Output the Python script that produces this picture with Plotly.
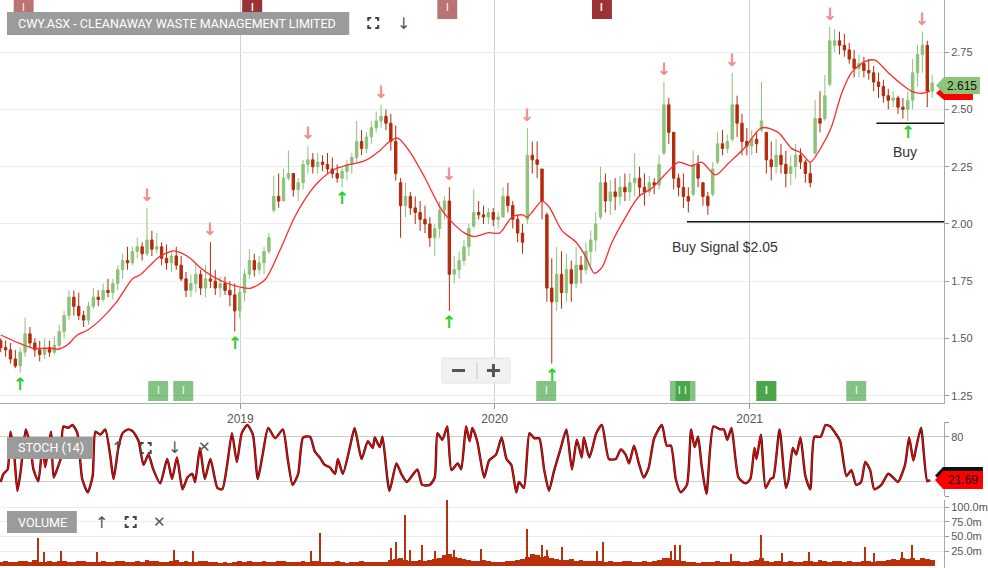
import numpy as np
import pandas as pd
import plotly.graph_objects as go

START = pd.Timestamp("2018-01-22")

# ---------------- weekly OHLC ----------------
opens = [1.49,1.46,1.45,1.41,1.38,1.44,1.52,1.48,1.45,1.43,
         1.46,1.44,1.47,1.53,1.60,1.68,1.64,1.60,1.58,1.64,
         1.68,1.67,1.71,1.70,1.74,1.80,1.84,1.83,1.88,1.90,
         1.87,1.93,1.89,1.90,1.85,1.83,1.86,1.82,1.76,1.71,
         1.74,1.78,1.72,1.76,1.75,1.72,1.74,1.71,1.69,1.62,
         1.70,1.78,1.84,1.80,1.83,1.88,2.06,2.12,2.10,2.20,
         2.22,2.15,2.18,2.26,2.28,2.25,2.27,2.26,2.24,2.22,
         2.20,2.23,2.26,2.29,2.36,2.33,2.38,2.42,2.45,2.47,
         2.44,2.36,2.18,2.08,2.12,2.07,2.05,2.02,2.00,1.94,
         1.98,2.06,2.10,1.78,1.80,1.84,1.90,1.99,2.05,2.04,
         2.03,2.05,2.02,2.03,2.12,2.08,2.02,1.96,2.02,2.30,
         2.28,2.24,2.04,1.72,1.66,1.78,1.70,1.80,1.74,1.82,
         1.80,1.88,1.93,2.03,2.18,2.10,2.14,2.12,2.16,2.14,
         2.18,2.20,2.16,2.14,2.18,2.17,2.31,2.52,2.40,2.20,
         2.16,2.12,2.13,2.26,2.18,2.12,2.13,2.27,2.35,2.33,
         2.37,2.52,2.44,2.36,2.34,2.37,2.41,2.40,2.28,2.25,
         2.30,2.26,2.22,2.25,2.30,2.27,2.22,2.31,2.46,2.46,
         2.61,2.78,2.80,2.78,2.76,2.72,2.68,2.70,2.67,2.66,
         2.62,2.60,2.56,2.54,2.55,2.51,2.50,2.54,2.66,2.74,
         2.78,2.58]
highs = [1.50,1.49,1.48,1.45,1.46,1.59,1.55,1.50,1.49,1.50,
         1.49,1.51,1.56,1.62,1.71,1.71,1.70,1.62,1.66,1.72,
         1.71,1.74,1.76,1.76,1.82,1.87,1.90,1.90,1.94,1.92,
         2.07,1.97,1.96,1.92,1.91,1.88,1.90,1.86,1.79,1.78,
         1.83,1.80,1.82,1.92,1.80,1.77,1.77,1.75,1.74,1.72,
         1.80,1.89,1.87,1.86,1.90,1.96,2.21,2.22,2.24,2.32,
         2.22,2.20,2.28,2.34,2.31,2.31,2.30,2.31,2.29,2.26,
         2.25,2.28,2.31,2.45,2.41,2.40,2.45,2.49,2.52,2.50,
         2.48,2.43,2.20,2.18,2.14,2.12,2.10,2.08,2.03,2.00,
         2.10,2.12,2.16,1.86,1.88,1.93,2.00,2.15,2.10,2.08,
         2.07,2.07,2.05,2.16,2.18,2.10,2.04,2.00,2.42,2.36,
         2.36,2.24,2.05,1.85,1.90,1.88,1.87,1.84,1.90,1.86,
         1.92,1.97,2.05,2.25,2.22,2.19,2.20,2.21,2.22,2.22,
         2.31,2.25,2.22,2.21,2.20,2.30,2.62,2.55,2.40,2.22,
         2.22,2.16,2.32,2.30,2.18,2.14,2.27,2.40,2.41,2.39,
         2.66,2.56,2.48,2.42,2.41,2.40,2.62,2.40,2.36,2.37,
         2.35,2.32,2.30,2.35,2.33,2.28,2.27,2.54,2.58,2.65,
         2.86,2.85,2.84,2.83,2.79,2.76,2.74,2.73,2.72,2.69,
         2.66,2.63,2.59,2.58,2.56,2.55,2.58,2.72,2.78,2.84,
         2.80,2.65]
lows = [1.44,1.42,1.39,1.37,1.35,1.42,1.46,1.42,1.40,1.41,
        1.42,1.43,1.45,1.50,1.58,1.60,1.58,1.55,1.56,1.63,
        1.64,1.66,1.68,1.67,1.71,1.76,1.80,1.82,1.85,1.84,
        1.86,1.86,1.87,1.82,1.80,1.79,1.80,1.75,1.68,1.68,
        1.70,1.69,1.68,1.72,1.69,1.68,1.69,1.64,1.53,1.59,
        1.66,1.76,1.77,1.78,1.78,1.87,2.05,2.07,2.10,2.19,
        2.12,2.10,2.15,2.22,2.22,2.22,2.23,2.22,2.20,2.18,
        2.16,2.19,2.22,2.27,2.30,2.31,2.35,2.40,2.42,2.41,
        2.32,2.19,1.94,2.03,2.04,2.00,1.97,1.96,1.90,1.86,
        1.94,2.02,1.62,1.74,1.76,1.82,1.86,1.98,2.02,2.00,
        2.00,1.99,1.98,2.03,2.05,1.98,1.92,1.87,2.00,2.22,
        2.20,2.02,1.66,1.39,1.62,1.63,1.66,1.66,1.72,1.74,
        1.78,1.82,1.88,2.02,2.05,2.04,2.06,2.08,2.10,2.10,
        2.12,2.12,2.08,2.12,2.13,2.15,2.30,2.35,2.15,2.12,
        2.07,2.05,2.12,2.16,2.08,2.04,2.12,2.26,2.30,2.31,
        2.36,2.38,2.30,2.30,2.30,2.31,2.40,2.22,2.19,2.22,
        2.22,2.16,2.17,2.20,2.24,2.18,2.16,2.30,2.40,2.45,
        2.60,2.75,2.74,2.73,2.70,2.64,2.64,2.64,2.63,2.58,
        2.55,2.53,2.50,2.51,2.48,2.46,2.45,2.50,2.60,2.66,
        2.51,2.55]
closes = [1.46,1.45,1.41,1.38,1.44,1.52,1.48,1.45,1.43,1.46,
          1.44,1.47,1.53,1.60,1.68,1.64,1.60,1.58,1.64,1.68,
          1.67,1.71,1.70,1.74,1.80,1.84,1.83,1.88,1.90,1.87,
          1.93,1.89,1.90,1.85,1.83,1.86,1.82,1.76,1.71,1.74,
          1.78,1.72,1.76,1.75,1.72,1.74,1.71,1.69,1.62,1.70,
          1.78,1.84,1.80,1.83,1.88,1.94,2.12,2.10,2.20,2.22,
          2.15,2.18,2.26,2.28,2.25,2.27,2.26,2.24,2.22,2.20,
          2.23,2.26,2.29,2.36,2.33,2.38,2.42,2.45,2.47,2.44,
          2.36,2.22,2.08,2.12,2.07,2.05,2.02,2.00,1.94,1.98,
          2.06,2.10,1.78,1.80,1.84,1.90,1.98,2.05,2.04,2.03,
          2.05,2.02,2.03,2.12,2.08,2.02,1.96,1.92,2.30,2.28,
          2.26,2.10,1.72,1.66,1.78,1.70,1.80,1.74,1.82,1.80,
          1.88,1.93,2.00,2.18,2.10,2.14,2.12,2.16,2.14,2.18,
          2.20,2.16,2.14,2.18,2.17,2.26,2.52,2.40,2.20,2.16,
          2.12,2.10,2.26,2.20,2.12,2.08,2.24,2.35,2.33,2.36,
          2.52,2.44,2.36,2.34,2.37,2.35,2.45,2.28,2.25,2.30,
          2.26,2.22,2.25,2.30,2.27,2.22,2.18,2.46,2.44,2.56,
          2.80,2.80,2.78,2.76,2.72,2.68,2.70,2.67,2.66,2.62,
          2.60,2.56,2.54,2.55,2.51,2.50,2.54,2.66,2.74,2.78,
          2.58,2.615]
week_dates = pd.date_range(START, periods=len(closes), freq="7D")

# ---------------- moving average (day offset from START, value) ----------------
ma_day = [0,29,47,72,83,96,110,125,143,165,
          190,200,215,229,248,258,272,286,305,325,
          344,358,379,401,422,444,458,480,501,522,
          544,558,570,587,608,630,644,666,680,701,
          716,734,749,756,777,787,806,826,840,852,
          863,877,897,916,935,955,973,992,1006,1026,
          1045,1069,1092,1116,1135,1149,1162,1178,1192,1207,
          1221,1241,1255,1274,1293,1307,1321,1334]
ma_val = [1.515,1.476,1.457,1.457,1.453,1.472,1.515,1.537,1.581,1.654,
          1.763,1.777,1.821,1.86,1.882,1.875,1.85,1.81,1.77,1.741,
          1.724,1.719,1.755,1.886,2.03,2.14,2.19,2.24,2.26,2.275,
          2.32,2.36,2.375,2.316,2.207,2.076,2.02,1.96,1.945,1.962,
          1.96,2.03,2.04,2.03,2.10,2.075,1.97,1.92,1.856,1.785,
          1.81,1.917,2.03,2.12,2.157,2.22,2.27,2.253,2.27,2.214,
          2.266,2.336,2.42,2.40,2.33,2.31,2.27,2.336,2.42,2.57,
          2.66,2.71,2.715,2.66,2.61,2.58,2.57,2.58]

# ---------------- stochastic (day offset, value) ----------------
stoch_day = [0,4,10,14,19,24,29,36,43,47,
             54,60,64,72,76,82,86,90,97,103,
             110,117,125,132,136,143,150,157,162,169,
             175,183,190,198,205,212,219,229,239,246,
             253,261,268,275,279,286,293,301,311,318,
             325,332,339,346,354,362,369,376,384,394,
             405,412,419,427,434,444,451,458,465,472,
             480,484,491,501,508,518,527,534,537,544,
             548,558,568,575,583,598,605,616,623,627,
             634,641,647,656,661,668,673,677,684,694,
             701,711,719,726,733,740,744,751,759,766,
             773,780,787,794,804,812,820,827,834,837,
             845,855,863,873,883,890,897,902,909,916,
             923,930,938,949,956,962,969,976,985,991,
             996,1001,1006,1013,1023,1033,1038,1043,1049,1059,
             1069,1076,1082,1085,1091,1098,1105,1109,1118,1127,
             1131,1137,1142,1148,1155,1162,1168,1177,1184,1191,
             1198,1205,1214,1221,1228,1235,1241,1248,1254,1264,
             1274,1281,1288,1298,1304,1310,1314,1321,1330,1334]
stoch_val = [19,30,36,87,60,7,36,90,65,36,
             20,68,39,87,25,39,50,94,92,96,
             85,23,5,27,87,83,90,56,23,66,
             85,90,87,74,42,56,36,17,50,23,
             52,9,25,30,19,65,23,50,11,9,
             42,85,46,85,96,83,23,56,92,78,
             90,50,15,30,79,80,60,52,42,39,
             30,50,30,65,92,50,74,65,79,66,
             80,7,44,30,19,36,15,15,25,85,
             76,94,35,44,36,94,74,92,74,25,
             48,56,79,50,42,5,19,11,85,78,
             78,36,7,33,65,90,36,76,52,79,
             52,85,96,50,50,63,56,44,68,44,
             25,38,78,96,68,68,23,5,15,90,
             66,80,42,3,94,90,90,76,92,25,
             17,23,65,50,83,11,23,25,90,11,
             23,65,56,79,27,9,80,80,96,94,
             85,74,27,35,15,19,46,35,9,15,
             30,25,19,42,79,48,65,92,20,21.69]

# ---------------- volume (millions) ----------------
vol_week = [7,8,6,7,9,8,7,10,7,6,8,7,9,
            8,7,6,8,9,7,6,7,8,6,7,9,8,7,6,8,7,10,
            8,9,7,6,8,10,7,8,6,7,9,8,7,6,5,6,
            5,6,8,7,9,6,7,8,7,6,9,8,7,6,7,8,
            7,8,9,7,6,7,8,6,5,6,7,8,7,6,7,6,7,
            10,12,14,11,9,8,10,9,11,12,13,18,20,16,14,12,
            11,9,8,10,8,7,6,7,8,
            9,10,12,16,20,18,15,17,14,12,11,10,12,9,10,8,9,8,9,
            7,8,6,7,8,9,7,6,8,7,9,10,14,13,11,10,9,
            7,6,5,6,7,6,8,7,6,8,9,7,6,9,11,13,8,7,9,8,
            7,8,6,7,9,8,7,10,8,7,8,9,7,8,6,7,8,9,7,8,
            9,10,12,11,13,12,14,11,13,12,10]
spike_day = [54,62,86,139,249,276,445,459,561,568,
             580,587,605,623,641,651,690,756,777,784,
             806,856,865,962,968,975,1049,1091,1122,1161,
             1241,1254,1294,1308]
spike_vol = [48,23,26,24,28,26,25,56,30,40,
             86,28,36,25,125,28,29,63,36,28,
             32,26,41,26,36,36,20,52,22,24,
             32,22,24,35]

# ---------------- signals / events ----------------
sell_weeks = [30, 43, 63, 78, 92, 108, 136, 150, 170, 189]
buy_weeks = [4, 48, 70, 92, 113, 186]
top_event_day = [33, 361, 361, 641, 863, 863]
bottom_event_day = [226, 262, 783, 975, 983, 1099, 1099, 1228]

year_ticks = ["2019-01-01", "2020-01-01", "2021-01-01"]
year_labels = ["2019", "2020", "2021"]
price_ticks = [1.25, 1.50, 1.75, 2.00, 2.25, 2.50, 2.75]
stoch_ticks = [0, 20, 80, 100]
stoch_labels = ["", "", "80", ""]   # the 20 label sits under the value tag
vol_ticks = [25, 50, 75, 100]
vol_labels = ["25.0m", "50.0m", "75.0m", "100.0m"]

buy_signal_level = 2.01
buy_signal_start_day = 985
buy_level = 2.44
buy_start_day = 1257
last_price = 2.615
last_stoch = 21.69
title_text = "CWY.ASX - CLEANAWAY WASTE MANAGEMENT LIMITED"

# ---------------- figure ----------------
W, H = 988, 568
R_MARGIN = 42
PW = W - R_MARGIN


def X(px):
    return px / PW


def Y(py):
    return 1 - py / H


def day(d):
    return START + pd.Timedelta(days=d)


GREEN = "#8cc27a"
RED = "#b32b0c"
VOLC = "#b8300c"
AXIS_END = day(1354)
LABEL_FONT = "Roboto"

fig = go.Figure()

fig.add_trace(go.Candlestick(
    x=week_dates, open=opens, high=highs, low=lows, close=closes,
    increasing=dict(line=dict(color=GREEN, width=1), fillcolor=GREEN),
    decreasing=dict(line=dict(color=RED, width=1), fillcolor=RED),
    whiskerwidth=0, hoverinfo="skip", showlegend=False,
    xaxis="x", yaxis="y"))

fig.add_trace(go.Scatter(
    x=[day(d) for d in ma_day], y=ma_val, mode="lines",
    line=dict(color="#ff2a2a", width=1.3, shape="spline", smoothing=0.8),
    hoverinfo="skip", showlegend=False, xaxis="x", yaxis="y"))

sx = [day(d) for d in stoch_day]
fig.add_trace(go.Scatter(
    x=sx, y=stoch_val, mode="lines",
    line=dict(color="#1a1a1a", width=2.4, shape="spline", smoothing=0.6),
    hoverinfo="skip", showlegend=False, xaxis="x2", yaxis="y2"))
fig.add_trace(go.Scatter(
    x=sx, y=stoch_val, mode="lines",
    line=dict(color="#ff0000", width=1.3, shape="spline", smoothing=0.6),
    hoverinfo="skip", showlegend=False, xaxis="x2", yaxis="y2"))

fig.add_trace(go.Bar(
    x=week_dates, y=vol_week, width=7 * 86400000,
    marker=dict(color=VOLC, line=dict(width=0)),
    hoverinfo="skip", showlegend=False, xaxis="x3", yaxis="y3"))
fig.add_trace(go.Bar(
    x=[day(d) for d in spike_day], y=spike_vol, width=1.6 * 86400000,
    marker=dict(color=VOLC, line=dict(width=0)),
    hoverinfo="skip", showlegend=False, xaxis="x3", yaxis="y3"))

shapes = []
ann = []

# signal arrows
for i in sell_weeks:
    ann.append(dict(x=week_dates[i], y=highs[i], xref="x", yref="y", yshift=13,
                    xanchor="center", yanchor="middle",
                    text="<b>↓</b>", showarrow=False,
                    font=dict(family="DejaVu Sans", size=17, color="#f28b8b")))
for i in buy_weeks:
    ann.append(dict(x=week_dates[i], y=lows[i], xref="x", yref="y", yshift=-11,
                    xanchor="center", yanchor="middle",
                    text="<b>↑</b>", showarrow=False,
                    font=dict(family="DejaVu Sans", size=17, color="#2fcc2f")))

# event boxes
for d in top_event_day:
    shapes.append(dict(type="rect", xref="x", yref="paper",
                       x0=day(d - 14.3), x1=day(d + 14.3), y0=Y(19), y1=Y(0),
                       fillcolor="rgba(130,0,0,0.55)", line=dict(width=0), layer="above"))
    ann.append(dict(x=day(d), y=Y(8), xref="x", yref="paper", text="I", showarrow=False,
                    xanchor="center", yanchor="middle",
                    font=dict(family="Liberation Sans", size=10, color="white")))
for d in bottom_event_day:
    shapes.append(dict(type="rect", xref="x", yref="paper",
                       x0=day(d - 14.3), x1=day(d + 14.3), y0=Y(401), y1=Y(381),
                       fillcolor="rgba(20,140,20,0.52)", line=dict(width=0), layer="above"))
    ann.append(dict(x=day(d), y=Y(390), xref="x", yref="paper", text="I", showarrow=False,
                    xanchor="center", yanchor="middle",
                    font=dict(family="Liberation Sans", size=10, color="white")))

# buy lines and text
shapes.append(dict(type="line", xref="x", yref="y", x0=day(buy_signal_start_day), x1=AXIS_END,
                   y0=buy_signal_level, y1=buy_signal_level, line=dict(color="#111", width=1.5)))
shapes.append(dict(type="line", xref="x", yref="y", x0=day(buy_start_day), x1=AXIS_END,
                   y0=buy_level, y1=buy_level, line=dict(color="#111", width=1.5)))
ann.append(dict(x=day(1039), y=1.90, xref="x", yref="y", text="Buy Signal $2.05",
                xanchor="center", yanchor="middle",
                showarrow=False, font=dict(family="Liberation Sans", size=14, color="#333")))
ann.append(dict(x=day(1298), y=2.314, xref="x", yref="y", text="Buy",
                xanchor="center", yanchor="middle",
                showarrow=False, font=dict(family="Liberation Sans", size=14, color="#333")))


def badge(x0, x1, y0, y1, text, size=12.5):
    shapes.append(dict(type="rect", xref="paper", yref="paper", x0=X(x0), x1=X(x1),
                       y0=Y(y1), y1=Y(y0), fillcolor="#9b9b9b", line=dict(width=0), layer="above"))
    ann.append(dict(x=X(x0 + 9), y=Y((y0 + y1) / 2), xref="paper", yref="paper",
                    xanchor="left", yanchor="middle", text=text, showarrow=False,
                    font=dict(family=LABEL_FONT, size=size, color="white")))


def full_icon(cx, cy, s=5, a=3, color="#444"):
    for sxn, syn in [(-1, -1), (1, -1), (-1, 1), (1, 1)]:
        p = "M {} {} L {} {} L {} {}".format(
            X(cx + sxn * s), Y(cy + syn * (s - a)),
            X(cx + sxn * s), Y(cy + syn * s),
            X(cx + sxn * (s - a)), Y(cy + syn * s))
        shapes.append(dict(type="path", xref="paper", yref="paper", path=p,
                           line=dict(color=color, width=2), layer="above"))


def icon_text(cx, cy, t, size=16, color="#555"):
    ann.append(dict(x=X(cx), y=Y(cy), xref="paper", yref="paper", text=t, showarrow=False,
                    xanchor="center", yanchor="middle",
                    font=dict(family="DejaVu Sans", size=size, color=color)))


badge(7, 350, 12, 35, title_text)
full_icon(374, 23)
icon_text(404, 23, "↓")

badge(7, 93, 437, 459, "STOCH (14)")
icon_text(118, 447, "↑")
full_icon(146, 448)
icon_text(175, 447, "↓")
icon_text(205, 447, "✕", size=15)

badge(7, 77, 511, 533, "VOLUME")
icon_text(102, 522, "↑")
full_icon(131, 522)
icon_text(160, 522, "✕", size=15)

# zoom buttons
shapes.append(dict(type="rect", xref="paper", yref="paper", x0=X(443), x1=X(511),
                   y0=Y(383), y1=Y(358), fillcolor="#f1f1f1",
                   line=dict(color="#e4e4e4", width=1), layer="above"))
shapes.append(dict(type="line", xref="paper", yref="paper", x0=X(453), x1=X(466),
                   y0=Y(370.5), y1=Y(370.5), line=dict(color="#555", width=3), layer="above"))
shapes.append(dict(type="line", xref="paper", yref="paper", x0=X(488), x1=X(501),
                   y0=Y(370.5), y1=Y(370.5), line=dict(color="#555", width=3), layer="above"))
shapes.append(dict(type="line", xref="paper", yref="paper", x0=X(494.5), x1=X(494.5),
                   y0=Y(364), y1=Y(377), line=dict(color="#555", width=3), layer="above"))
shapes.append(dict(type="line", xref="paper", yref="paper", x0=X(478), x1=X(478),
                   y0=Y(362), y1=Y(379), line=dict(color="#c8c8c8", width=1), layer="above"))


def tag(xtip, xr, yt, yb, fill, text, tcolor="#111"):
    p = "M {} {} L {} {} L {} {} L {} {} L {} {} Z".format(
        X(xtip), Y((yt + yb) / 2), X(xtip + 8), Y(yt), X(xr), Y(yt), X(xr), Y(yb), X(xtip + 8), Y(yb))
    shapes.append(dict(type="path", xref="paper", yref="paper", path=p, fillcolor=fill,
                       line=dict(width=0), layer="above"))
    if text:
        ann.append(dict(x=X((xtip + 8 + xr) / 2), y=Y((yt + yb) / 2),
                        xref="paper", yref="paper", text=text, showarrow=False,
                        xanchor="center", yanchor="middle",
                        font=dict(family="Liberation Sans", size=12, color=tcolor)))


tag(938, 975, 86, 100, "#ff0000", "")          # moving-average tag, mostly hidden
tag(938, 982, 77, 94, "#8dc47a", "{:.3f}".format(last_price))
tag(937, 985, 467, 484, "#111111", "")
tag(937, 985, 471, 489, "#ff0000", "{:.2f}".format(last_stoch))

PRICE_DOM = [Y(403), 1]
STOCH_DOM = [Y(496), Y(422)]
VOL_DOM = [0, Y(500)]
xr = [START - pd.Timedelta(days=1), AXIS_END]
tickfont = dict(family="Liberation Sans", size=11, color="#555")

fig.update_layout(
    width=W, height=H, margin=dict(l=0, r=R_MARGIN, t=0, b=0),
    paper_bgcolor="white", plot_bgcolor="white", hovermode=False,
    barmode="overlay", bargap=0, showlegend=False,
    shapes=shapes, annotations=ann,
    xaxis=dict(domain=[0, 1], anchor="y", range=xr, type="date",
               rangeslider=dict(visible=False),
               tickvals=year_ticks, ticktext=year_labels,
               tickfont=dict(family="Liberation Sans", size=12, color="#555"),
               ticks="outside", ticklen=5, tickcolor="#999",
               showgrid=True, gridcolor="#d0d0d0", gridwidth=1,
               showline=True, linecolor="#aaa", linewidth=1, zeroline=False),
    xaxis2=dict(domain=[0, 1], anchor="y2", matches="x", range=xr, type="date",
                showticklabels=False, showgrid=False, ticks="", showline=False, zeroline=False),
    xaxis3=dict(domain=[0, 1], anchor="y3", matches="x", range=xr, type="date",
                showticklabels=False, showgrid=False, ticks="", showline=False, zeroline=False),
    yaxis=dict(domain=PRICE_DOM, anchor="x", side="right", range=[1.218, 2.978],
               tickvals=price_ticks, tickformat=".2f", tickfont=tickfont,
               ticks="outside", ticklen=4, tickcolor="#999",
               showgrid=True, gridcolor="#ededed", showline=True, linecolor="#aaa",
               zeroline=False, fixedrange=True),
    yaxis2=dict(domain=STOCH_DOM, anchor="x2", side="right", range=[0, 100],
                tickvals=stoch_ticks, ticktext=stoch_labels, tickfont=tickfont,
                ticks="outside", ticklen=4, tickcolor="#999",
                showgrid=True, gridcolor="#cccccc", showline=True, linecolor="#aaa",
                zeroline=False),
    yaxis3=dict(domain=VOL_DOM, anchor="x3", side="right", range=[-3.4, 112],
                tickvals=vol_ticks, ticktext=vol_labels, tickfont=tickfont,
                ticks="outside", ticklen=4, tickcolor="#999",
                showgrid=True, gridcolor="#ededed", showline=True, linecolor="#aaa",
                zeroline=False),
)

fig.write_html("out.html", config={"displayModeBar": False},
               post_script="document.body.style.margin='0';document.body.style.overflow='hidden';")
